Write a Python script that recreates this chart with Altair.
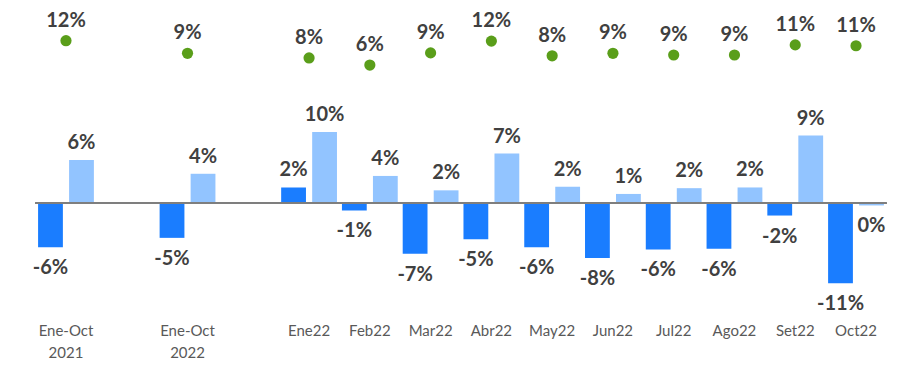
import altair as alt
import pandas as pd

# --- data -------------------------------------------------------------
slots = ["Ene-Oct 2021", "gap1", "Ene-Oct 2022", "gap2", "Ene22", "Feb22", "Mar22",
         "Abr22", "May22", "Jun22", "Jul22", "Ago22", "Set22", "Oct22"]
categories = ["Ene-Oct 2021", "Ene-Oct 2022", "Ene22", "Feb22", "Mar22", "Abr22",
              "May22", "Jun22", "Jul22", "Ago22", "Set22", "Oct22"]
serie_a = [-6.1, -4.8, 2.2, -1.0, -7.0, -5.0, -6.1, -7.6, -6.4, -6.3, -1.7, -11.1]
serie_b = [6.0, 4.1, 9.9, 3.8, 1.8, 6.9, 2.3, 1.3, 2.1, 2.2, 9.4, -0.3]
puntos = [12.0, 9.0, 7.9, 6.2, 9.1, 11.9, 8.4, 9.0, 8.6, 8.6, 11.0, 10.8]
series = ["A", "B"]

bars = pd.DataFrame(
    [{"cat": c, "serie": "A", "v": a} for c, a in zip(categories, serie_a)]
    + [{"cat": c, "serie": "B", "v": b} for c, b in zip(categories, serie_b)]
)
dots = pd.DataFrame({"cat": categories, "v": puntos})

LABEL_CALC = "(round(datum.v) == 0 ? '0' : ('' + round(datum.v))) + '%'"

x_enc = alt.X(
    "cat:N",
    sort=slots,
    scale=alt.Scale(domain=slots, paddingInner=0, paddingOuter=0),
    axis=alt.Axis(
        title=None, domain=False, ticks=False, grid=False,
        labelAngle=0, labelFont="Lato", labelFontSize=15, labelColor="#595959",
        labelPadding=26, labelBaseline="top", labelLineHeight=22,
        labelExpr="indexof(datum.value, 'gap') == 0 ? '' : split(datum.value, ' ')",
    ),
)
xoff = alt.XOffset("serie:N", scale=alt.Scale(domain=series, paddingInner=0.2, paddingOuter=0.08))
BAR_DOM = [-13.153, 27.125]
DOT_DOM = [-49.26, 19.786]
y_bar = alt.Y("v:Q", scale=alt.Scale(domain=BAR_DOM, nice=False, zero=False), axis=None)
y_dot = alt.Y("v:Q", scale=alt.Scale(domain=DOT_DOM, nice=False, zero=False), axis=None)
color = alt.Color("serie:N", scale=alt.Scale(domain=series, range=["#1A7DFF", "#92C4FF"]), legend=None)

base = alt.Chart(bars)

bar_layer = base.mark_bar().encode(x=x_enc, xOffset=xoff, y=y_bar, color=color)

zero_rule = base.transform_filter("datum.serie == 'A'").transform_calculate(z="0").mark_rule(
    color="#7F7F7F", strokeWidth=1.5
).encode(y=alt.Y("z:Q", scale=alt.Scale(domain=BAR_DOM, nice=False, zero=False), axis=None))

txt_pos = base.transform_filter("datum.v >= 0").transform_calculate(lab=LABEL_CALC).mark_text(
    font="Lato", fontSize=20, fontWeight="bold", color="#404040", baseline="alphabetic", dy=-11
).encode(x=x_enc, xOffset=xoff, y=y_bar, text="lab:N")

txt_neg = base.transform_filter("datum.v < 0").transform_calculate(lab=LABEL_CALC).mark_text(
    font="Lato", fontSize=20, fontWeight="bold", color="#404040", baseline="alphabetic", dy=27
).encode(x=x_enc, xOffset=xoff, y=y_bar, text="lab:N")

dot_base = alt.Chart(dots)
dot_layer = dot_base.mark_circle(size=125, opacity=1, color="#5A9E1A").encode(x=x_enc, y=y_dot)
dot_txt = dot_base.transform_calculate(lab=LABEL_CALC).mark_text(
    font="Lato", fontSize=20, fontWeight="bold", color="#404040", baseline="alphabetic", dy=-14
).encode(x=x_enc, y=y_dot, text="lab:N")

chart = alt.layer(bar_layer, zero_rule, txt_pos, txt_neg, dot_layer, dot_txt).resolve_scale(
    y="independent"
).properties(
    width=850.8, height=290,
    autosize=alt.AutoSizeParams(type="none"),
    padding={"left": 27.6, "top": 0, "right": 10, "bottom": 65},
).configure(font="Lato").configure_view(strokeWidth=0, stroke=None)

chart.save("out.html", embed_options={"renderer": "svg", "actions": False})
